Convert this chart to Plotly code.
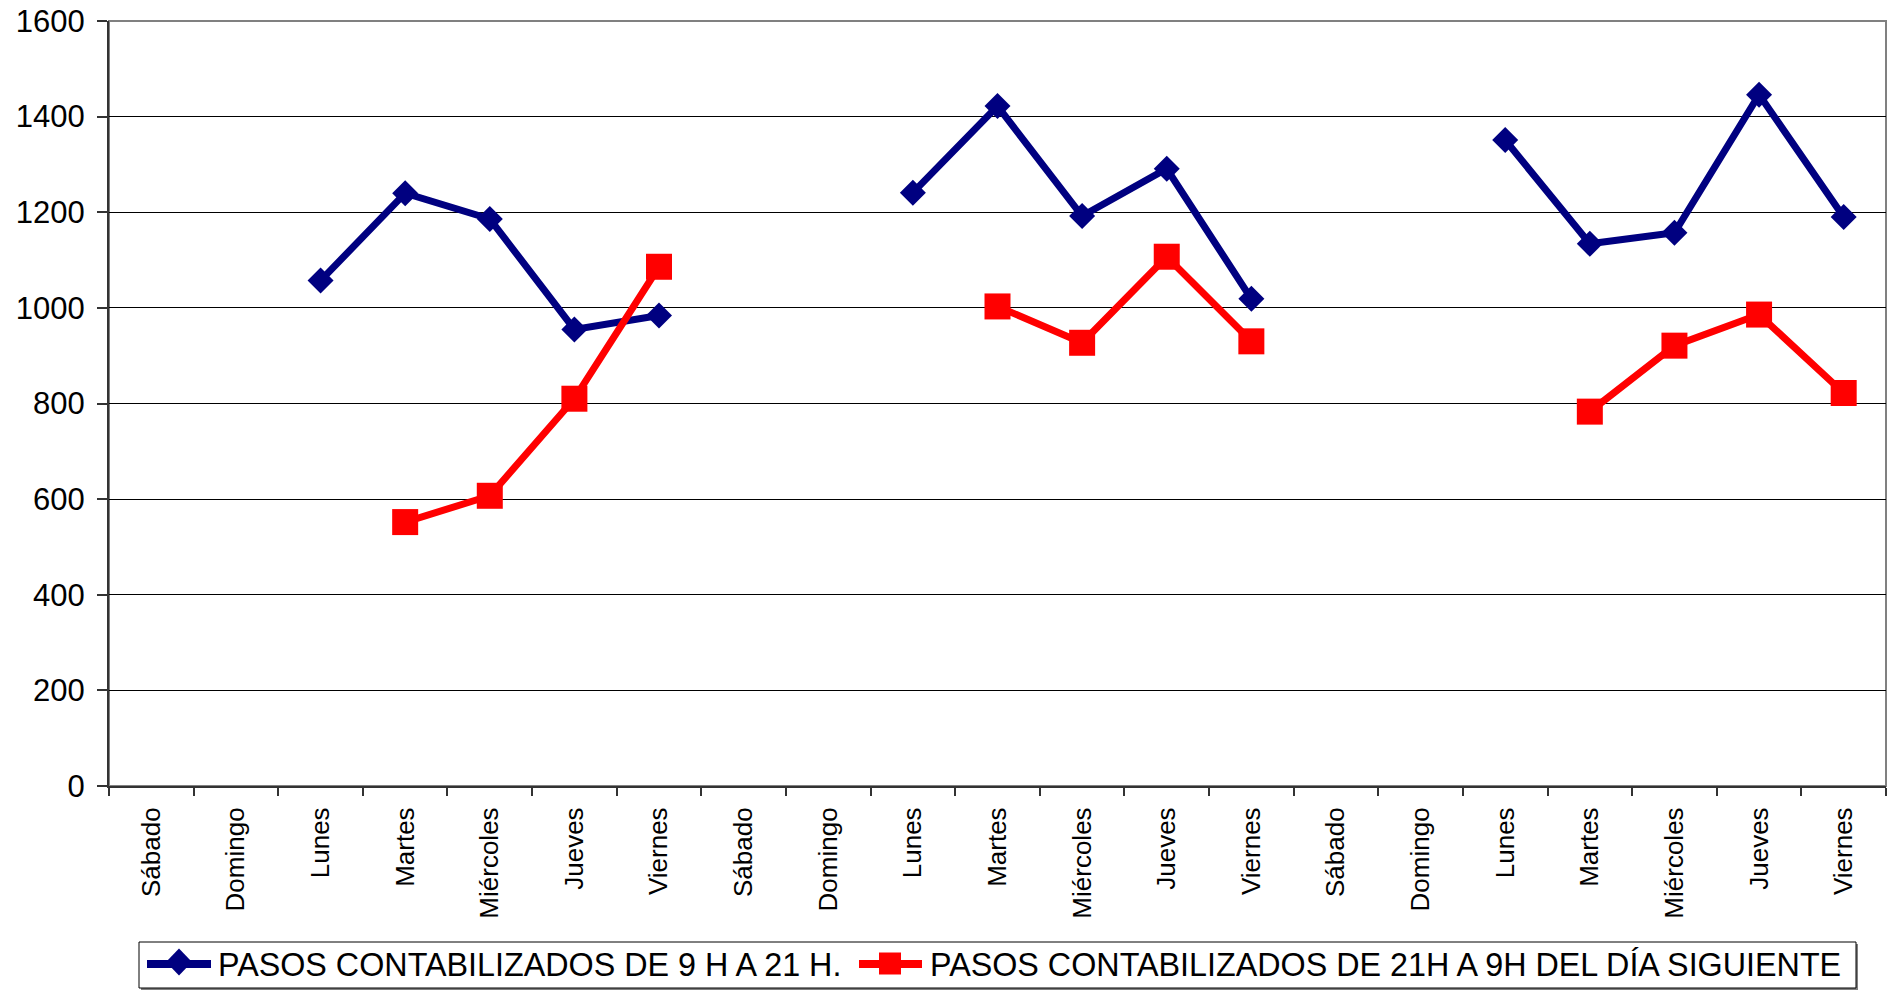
import plotly.graph_objects as go

dias = ["Sábado", "Domingo", "Lunes", "Martes", "Miércoles", "Jueves", "Viernes",
        "Sábado", "Domingo", "Lunes", "Martes", "Miércoles", "Jueves", "Viernes",
        "Sábado", "Domingo", "Lunes", "Martes", "Miércoles", "Jueves", "Viernes"]

pasos_dia = [None, None, 1057, 1240, 1186, 955, 984,
             None, None, 1241, 1422, 1192, 1291, 1019,
             None, None, 1351, 1134, 1157, 1446, 1190]

pasos_noche = [None, None, None, 552, 607, 810, 1086,
               None, None, None, 1003, 927, 1107, 930,
               None, None, None, 783, 921, 986, 822]

nombre_dia = "PASOS CONTABILIZADOS DE 9 H A 21 H."
nombre_noche = "PASOS CONTABILIZADOS DE 21H A 9H DEL DÍA SIGUIENTE"

y_ticks = [0, 200, 400, 600, 800, 1000, 1200, 1400, 1600]

AZUL = "#000080"
ROJO = "#FF0000"
FONT = "Arial, Liberation Sans, sans-serif"

W, H = 1892, 990
ML, MR, MT, MB = 109, 6, 21, 204
PW, PH = W - ML - MR, H - MT - MB


def px(xpix):
    return (xpix - ML) / PW


def py(ypix):
    return (H - MB - ypix) / PH


x = list(range(len(dias)))

fig = go.Figure()
fig.add_trace(go.Scatter(
    x=x, y=pasos_dia, name=nombre_dia, mode="lines+markers",
    line=dict(color=AZUL, width=7),
    marker=dict(symbol="diamond", size=20, color=AZUL),
))
fig.add_trace(go.Scatter(
    x=x, y=pasos_noche, name=nombre_noche, mode="lines+markers",
    line=dict(color=ROJO, width=7),
    marker=dict(symbol="square", size=26, color=ROJO),
))

shapes = []
# plot-area border (grey top/right)
shapes.append(dict(type="rect", xref="x domain", yref="y domain", x0=0, x1=1, y0=0, y1=1,
                   line=dict(color="#808080", width=2), layer="below"))

# custom legend box with shadow
shapes.append(dict(type="rect", xref="paper", yref="paper",
                   x0=px(141), x1=px(1858), y0=py(990), y1=py(944),
                   line=dict(width=0), fillcolor="#808080"))
shapes.append(dict(type="rect", xref="paper", yref="paper",
                   x0=px(139), x1=px(1856), y0=py(988), y1=py(942),
                   line=dict(color="black", width=1), fillcolor="white"))
# legend item 1
shapes.append(dict(type="line", xref="paper", yref="paper",
                   x0=px(147), x1=px(211), y0=py(964), y1=py(964),
                   line=dict(color=AZUL, width=8)))
cx, cy, hw, hh = 179, 962, 13, 13.5
shapes.append(dict(type="path", xref="paper", yref="paper",
                   path=f"M {px(cx-hw)},{py(cy)} L {px(cx)},{py(cy-hh)} L {px(cx+hw)},{py(cy)} L {px(cx)},{py(cy+hh)} Z",
                   line=dict(width=0), fillcolor=AZUL))
# legend item 2
shapes.append(dict(type="line", xref="paper", yref="paper",
                   x0=px(859), x1=px(922), y0=py(964), y1=py(964),
                   line=dict(color=ROJO, width=8)))
sx, sy, hs = 890, 963.5, 11
shapes.append(dict(type="rect", xref="paper", yref="paper",
                   x0=px(sx-hs), x1=px(sx+hs), y0=py(sy+hs), y1=py(sy-hs),
                   line=dict(width=0), fillcolor=ROJO))

annotations = [
    dict(text=nombre_dia, xref="paper", yref="paper", x=px(216), y=py(965),
         xanchor="left", yanchor="middle", showarrow=False,
         font=dict(size=32.3, family=FONT, color="black")),
    dict(text=nombre_noche, xref="paper", yref="paper", x=px(928), y=py(965),
         xanchor="left", yanchor="middle", showarrow=False,
         font=dict(size=32.3, family=FONT, color="black")),
]

fig.update_layout(
    width=W, height=H,
    margin=dict(l=ML, r=MR, t=MT, b=MB),
    paper_bgcolor="white", plot_bgcolor="white",
    font=dict(family=FONT, color="black"),
    showlegend=False,
    shapes=shapes,
    annotations=annotations,
    xaxis=dict(
        range=[-0.5, len(dias) - 0.5],
        tickmode="array", tickvals=x, ticktext=dias,
        tickangle=-90, tickfont=dict(size=26, family=FONT, color="black"),
        ticks="", showgrid=False, zeroline=False,
        showline=True, linecolor="#333333", linewidth=2,
        ticklabelstandoff=9, automargin=False,
        minor=dict(tick0=0.5, dtick=1, ticks="outside", ticklen=8,
                   tickcolor="#333333", tickwidth=1.5, showgrid=False),
        fixedrange=True,
    ),
    yaxis=dict(
        range=[0, 1600], tickmode="array", tickvals=y_ticks,
        tickfont=dict(size=31, family=FONT, color="black"),
        ticks="outside", ticklen=10, tickcolor="#333333", tickwidth=1.5,
        showgrid=True, gridcolor="#000000", gridwidth=1,
        zeroline=False, showline=True, linecolor="#333333", linewidth=2,
        ticklabelstandoff=6, automargin=False,
        fixedrange=True,
    ),
)

fig.write_html("out.html", config={"displayModeBar": False},
               post_script="document.body.style.margin='0px';document.body.style.overflow='hidden';")
